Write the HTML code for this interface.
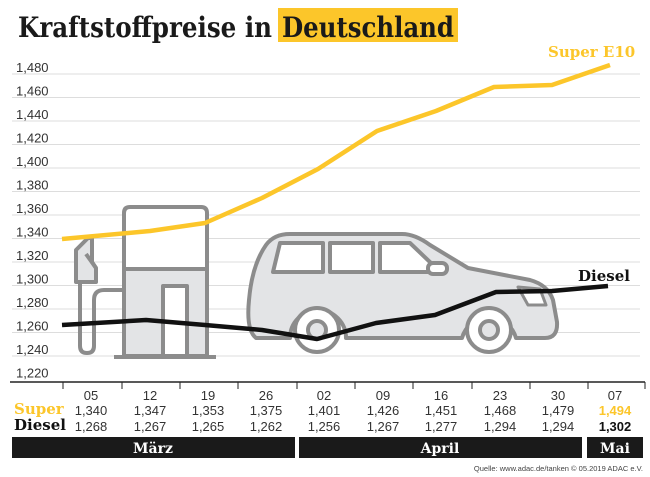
<!DOCTYPE html>
<html><head><meta charset="utf-8"><style>
body{margin:0;background:#fff;}
svg{display:block;}
.t{font-family:"Liberation Sans",sans-serif;font-size:13px;fill:#333;}
.s{font-family:"DejaVu Serif",serif;font-weight:bold;}
</style></head><body>
<svg width="650" height="477" viewBox="0 0 650 477" xmlns="http://www.w3.org/2000/svg">
<rect x="278" y="8" width="180" height="34" fill="#fcc62a"/>
<text x="18" y="37" class="s" font-size="28" fill="#1a1a1a" textLength="254" lengthAdjust="spacingAndGlyphs">Kraftstoffpreise in</text>
<text x="282" y="37" class="s" font-size="28" fill="#1a1a1a" textLength="172" lengthAdjust="spacingAndGlyphs">Deutschland</text>
<g stroke="#ddd" stroke-width="1">
<line x1="12" y1="74" x2="640" y2="74"/><line x1="12" y1="97.5" x2="640" y2="97.5"/><line x1="12" y1="121" x2="640" y2="121"/><line x1="12" y1="144.5" x2="640" y2="144.5"/><line x1="12" y1="168" x2="640" y2="168"/><line x1="12" y1="191.5" x2="640" y2="191.5"/><line x1="12" y1="215" x2="640" y2="215"/><line x1="12" y1="238.5" x2="640" y2="238.5"/><line x1="12" y1="262" x2="640" y2="262"/><line x1="12" y1="285.5" x2="640" y2="285.5"/><line x1="12" y1="309" x2="640" y2="309"/><line x1="12" y1="332.5" x2="640" y2="332.5"/><line x1="12" y1="356" x2="640" y2="356"/>
</g>
<g class="t">
<text x="16" y="72">1,480</text><text x="16" y="95.5">1,460</text><text x="16" y="119">1,440</text><text x="16" y="142.5">1,420</text><text x="16" y="166">1,400</text><text x="16" y="189.5">1,380</text><text x="16" y="213">1,360</text><text x="16" y="236.5">1,340</text><text x="16" y="260">1,320</text><text x="16" y="283.5">1,300</text><text x="16" y="307">1,280</text><text x="16" y="330.5">1,260</text><text x="16" y="354">1,240</text><text x="16" y="377.5">1,220</text>
</g>
<!-- illustration -->
<g stroke="#8c8c8c" stroke-width="4" fill="#e3e4e6" stroke-linejoin="round">
<path d="M76 250 L88 238 L92 238 L92 262 L96 268 L96 282 L76 282 Z"/>
<path d="M96 268 L86 254" fill="none"/>
<path d="M80 282 L80 346 Q80 353 87 353 Q94 353 94 346 L94 300 Q94 290 104 290 L124 290" fill="none"/>
<path d="M124 356 L124 213 Q124 207 130 207 L201 207 Q207 207 207 213 L207 356 Z" fill="#fff"/>
<rect x="124" y="269" width="83" height="87"/>
<rect x="163" y="286" width="24" height="70" fill="#fff"/>
<line x1="114" y1="357" x2="216" y2="357"/>
<path d="M256 338 Q246 330 249 300 Q252 265 266 245 Q274 234 290 234 L402 234 Q415 234 430 245 L468 268 L530 280 Q548 285 553 300 L557 322 Q558 338 545 338 L516 338 A28 28 0 0 0 462 338 L346 338 A28 28 0 0 0 290 338 Z"/>
<path d="M280 243 L323 243 L323 272 L273 272 Z" fill="#fff"/>
<rect x="330" y="243" width="43" height="29" fill="#fff"/>
<path d="M380 243 L410 243 L432 264 L432 272 L380 272 Z" fill="#fff"/>
<rect x="428" y="263" width="19" height="11" rx="5" fill="#fff"/>
<path d="M518 287 L540 289 L546 305 L528 305 Z" fill="#fff" stroke-width="3"/>
<circle cx="317" cy="330" r="22" fill="#fff"/><circle cx="317" cy="330" r="9"/>
<circle cx="489" cy="330" r="22" fill="#fff"/><circle cx="489" cy="330" r="9"/>
</g>
<polyline fill="none" stroke="#fcc62a" stroke-width="4.5" stroke-linejoin="round" points="62,239 150,231 205,223 262,198 318,169 377,131 436,111 494,87 552,85 610,65"/>
<polyline fill="none" stroke="#111" stroke-width="4.5" stroke-linejoin="round" points="62,325 146,320 205,325 262,330 317,339 376,323 435,315 496,292 552,291 608,286"/>
<text x="548" y="57" class="s" font-size="15" fill="#fcc62a">Super E10</text>
<text x="578" y="281" class="s" font-size="15" fill="#111">Diesel</text>
<line x1="10" y1="382" x2="645" y2="382" stroke="#222" stroke-width="1.5"/>
<g stroke="#222" stroke-width="1"><line x1="63" y1="382" x2="63" y2="389"/><line x1="122" y1="382" x2="122" y2="389"/><line x1="180" y1="382" x2="180" y2="389"/><line x1="238" y1="382" x2="238" y2="389"/><line x1="297" y1="382" x2="297" y2="389"/><line x1="355" y1="382" x2="355" y2="389"/><line x1="413" y1="382" x2="413" y2="389"/><line x1="472" y1="382" x2="472" y2="389"/><line x1="530" y1="382" x2="530" y2="389"/><line x1="588" y1="382" x2="588" y2="389"/><line x1="645" y1="382" x2="645" y2="389"/></g>
<g class="t" text-anchor="middle" font-size="14">
<text x="91" y="400">05</text><text x="150" y="400">12</text><text x="208" y="400">19</text><text x="266" y="400">26</text><text x="324" y="400">02</text><text x="383" y="400">09</text><text x="441" y="400">16</text><text x="500" y="400">23</text><text x="558" y="400">30</text><text x="615" y="400">07</text>
<text x="91" y="415">1,340</text><text x="150" y="415">1,347</text><text x="208" y="415">1,353</text><text x="266" y="415">1,375</text><text x="324" y="415">1,401</text><text x="383" y="415">1,426</text><text x="441" y="415">1,451</text><text x="500" y="415">1,468</text><text x="558" y="415">1,479</text><text x="615" y="415" fill="#fcc62a" font-weight="bold">1,494</text>
<text x="91" y="431">1,268</text><text x="150" y="431">1,267</text><text x="208" y="431">1,265</text><text x="266" y="431">1,262</text><text x="324" y="431">1,256</text><text x="383" y="431">1,267</text><text x="441" y="431">1,277</text><text x="500" y="431">1,294</text><text x="558" y="431">1,294</text><text x="615" y="431" fill="#111" font-weight="bold">1,302</text>
</g>
<text x="14" y="414" class="s" font-size="15" fill="#fcc62a">Super</text>
<text x="14" y="430" class="s" font-size="15" fill="#111">Diesel</text>
<rect x="12" y="437" width="283" height="21" fill="#1a1a1a"/>
<rect x="299" y="437" width="283" height="21" fill="#1a1a1a"/>
<rect x="587" y="437" width="56" height="21" fill="#1a1a1a"/>
<g class="s" font-size="14" fill="#fff" text-anchor="middle"><text x="153" y="453">März</text><text x="440" y="453">April</text><text x="615" y="453">Mai</text></g>
<text x="643" y="471" text-anchor="end" font-family="Liberation Sans,sans-serif" font-size="7.5" fill="#444">Quelle: www.adac.de/tanken   © 05.2019  ADAC e.V.</text>
</svg>
</body></html>
